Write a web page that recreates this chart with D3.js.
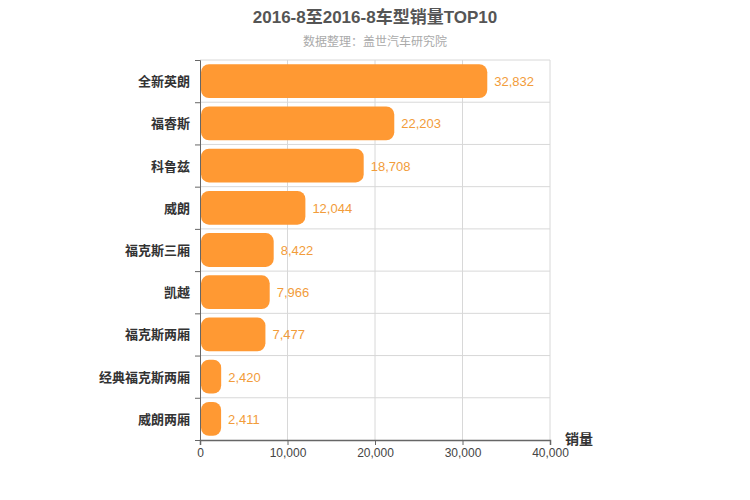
<!DOCTYPE html>
<html><head><meta charset="utf-8">
<script src="https://cdn.jsdelivr.net/npm/d3@7"></script>
<style>body{margin:0;background:#fff}</style>
</head><body>
<svg id="chart" width="750" height="500"></svg>
<script>
const models = ["全新英朗", "福睿斯", "科鲁兹", "威朗", "福克斯三厢", "凯越", "福克斯两厢", "经典福克斯两厢", "威朗两厢"];
const sales = [32832, 22203, 18708, 12044, 8422, 7966, 7477, 2420, 2411];
const xTicks = [0, 10000, 20000, 30000, 40000];

const font = "'Helvetica Neue', Arial, 'Noto Sans CJK SC', sans-serif";
const svg = d3.select("#chart").style("font-family", font);
const pLeft = 200, pRight = 550, pTop = 60, pBottom = 440;

const x = d3.scaleLinear().domain([0, 40000]).range([pLeft, pRight]);
const y = d3.scaleBand().domain(models).range([pTop, pBottom]).paddingInner(0.2).paddingOuter(0.1);

// grid
svg.append("g").selectAll("line").data(xTicks.slice(1)).enter().append("line")
  .attr("x1", d => x(d)).attr("x2", d => x(d)).attr("y1", pTop).attr("y2", pBottom)
  .attr("stroke", "#d8d8d8");
svg.append("g").selectAll("line").data(d3.range(models.length)).enter().append("line")
  .attr("x1", pLeft).attr("x2", pRight)
  .attr("y1", i => pTop + i * (pBottom - pTop) / models.length)
  .attr("y2", i => pTop + i * (pBottom - pTop) / models.length)
  .attr("stroke", "#d8d8d8");

// bars
svg.append("g").selectAll("rect").data(models).enter().append("rect")
  .attr("x", x(0) + 1).attr("y", d => y(d))
  .attr("width", (d, i) => x(sales[i]) - x(0) - 1)
  .attr("height", y.bandwidth())
  .attr("rx", 8).attr("fill", "#ff9933");

svg.append("g").selectAll("text").data(models).enter().append("text")
  .attr("x", (d, i) => x(sales[i]) + 7)
  .attr("y", d => y(d) + y.bandwidth() / 2 + 5)
  .attr("fill", "#f29c3a").attr("font-size", 13)
  .text((d, i) => d3.format(",")(sales[i]));

// axes
const yAxis = svg.append("g").attr("transform", `translate(${pLeft},0)`)
  .call(d3.axisLeft(d3.scaleLinear().domain([0, models.length]).range([pTop, pBottom]))
    .ticks(models.length).tickSize(5).tickFormat(""));
yAxis.select(".domain").attr("stroke", "#666");
yAxis.selectAll(".tick line").attr("stroke", "#666");
svg.append("g").selectAll("text").data(models).enter().append("text")
  .attr("x", pLeft - 10).attr("y", d => y(d) + y.bandwidth() / 2 + 5)
  .attr("text-anchor", "end").attr("font-size", 13).attr("font-weight", "bold").attr("fill", "#333")
  .text(d => d);

const xAxis = svg.append("g").attr("transform", `translate(0,${pBottom})`)
  .call(d3.axisBottom(x).tickValues(xTicks).tickSize(5).tickFormat(d3.format(",")));
xAxis.select(".domain").attr("stroke", "#666").attr("stroke-width", 1.5);
xAxis.selectAll(".tick line").attr("stroke", "#666");
xAxis.selectAll("text").attr("font-size", 12).attr("fill", "#444").attr("font-family", font);

svg.append("text").attr("x", 565).attr("y", 444).attr("font-size", 14).attr("font-weight", "bold")
  .attr("fill", "#333").text("销量");

svg.append("text").attr("x", 375).attr("y", 23).attr("text-anchor", "middle")
  .attr("font-size", 17).attr("font-weight", "bold").attr("fill", "#555")
  .text("2016-8至2016-8车型销量TOP10");
svg.append("text").attr("x", 375).attr("y", 46).attr("text-anchor", "middle")
  .attr("font-size", 12).attr("fill", "#aaa").text("数据整理：盖世汽车研究院");
</script>
</body></html>
